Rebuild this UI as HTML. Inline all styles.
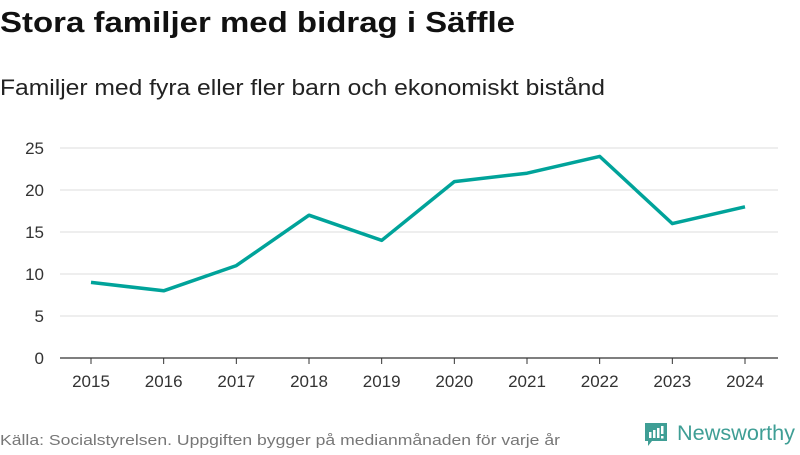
<!DOCTYPE html>
<html><head><meta charset="utf-8"><style>
body{margin:0;width:800px;height:450px;background:#fff;font-family:"Liberation Sans",sans-serif;overflow:hidden}
</style></head><body>
<svg width="800" height="450">
<text x="0" y="32" font-size="29" font-weight="bold" fill="#111" textLength="515" lengthAdjust="spacingAndGlyphs">Stora familjer med bidrag i Säffle</text>
<text x="0" y="95" font-size="22" fill="#222" textLength="605" lengthAdjust="spacingAndGlyphs">Familjer med fyra eller fler barn och ekonomiskt bistånd</text>
<g id="grid"></g><g id="xt"></g>
<path id="line" fill="none" stroke="#00a39a" stroke-width="3.5" stroke-linejoin="round"/>
<text x="0" y="445" font-size="15" fill="#777" textLength="560" lengthAdjust="spacingAndGlyphs">Källa: Socialstyrelsen. Uppgiften bygger på medianmånaden för varje år</text>
<g>
<path d="M645 423h22v18h-15l-4 5v-5h-3z" fill="#3f9e95"/>
<rect x="649" y="432" width="2.5" height="6" fill="#fff"/><rect x="653" y="430" width="2.5" height="8" fill="#fff"/><rect x="657" y="428" width="2.5" height="10" fill="#fff"/><rect x="661" y="426" width="2.5" height="8" fill="#fff"/><rect x="661" y="436" width="2.5" height="2.5" fill="#fff"/>
<text x="677" y="440" font-size="21" fill="#3f9e95" textLength="118" lengthAdjust="spacingAndGlyphs">Newsworthy</text>
</g>
</svg>
<script>
const years=["2015","2016","2017","2018","2019","2020","2021","2022","2023","2024"];
const values=[9,8,11,17,14,21,22,24,16,18];
const yTicks=[0,5,10,15,20,25];
const ns="http://www.w3.org/2000/svg";
const x=i=>91+i*(745-91)/(years.length-1);
const y=v=>358-v*(358-148)/25;
const g=document.getElementById('grid'),xt=document.getElementById('xt');
yTicks.forEach(t=>{
 const l=document.createElementNS(ns,'line');
 l.setAttribute('x1',60);l.setAttribute('x2',778);l.setAttribute('y1',y(t));l.setAttribute('y2',y(t));
 l.setAttribute('stroke',t===0?'#333':'#ddd');l.setAttribute('stroke-width',t===0?1.2:1);
 
 
 g.appendChild(l);
 const tx=document.createElementNS(ns,'text');
 tx.setAttribute('x',44);tx.setAttribute('y',y(t)+6);tx.setAttribute('text-anchor','end');tx.setAttribute('font-size','17');tx.setAttribute('fill','#333');
 tx.textContent=t;
 
 
 g.appendChild(tx);
});
years.forEach((yr,i)=>{
 const l=document.createElementNS(ns,'line');
 l.setAttribute('x1',x(i));l.setAttribute('x2',x(i));l.setAttribute('y1',358);l.setAttribute('y2',364);l.setAttribute('stroke','#333');
 
 
 xt.appendChild(l);
 const tx=document.createElementNS(ns,'text');
 tx.setAttribute('x',x(i));tx.setAttribute('y',387);tx.setAttribute('text-anchor','middle');tx.setAttribute('font-size','17');tx.setAttribute('fill','#333');
 tx.textContent=yr;
 
 
 xt.appendChild(tx);
});
document.getElementById('line').setAttribute('d',values.map((v,i)=>(i?'L':'M')+x(i)+' '+y(v)).join(''));
</script>
</body></html>
